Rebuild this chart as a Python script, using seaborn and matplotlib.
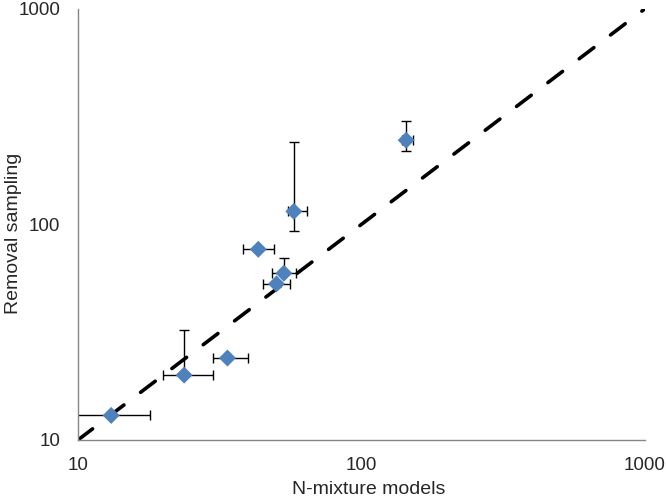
import matplotlib
matplotlib.use('Agg')
import matplotlib.pyplot as plt
import seaborn as sns
import pandas as pd

# N-mixture estimates vs removal sampling estimates
nmix = [13.1, 23.7, 33.7, 57.8, 43.3, 53.3, 50.2, 144]
removal = [13.0, 20.0, 24.0, 115, 76.7, 59.4, 53.0, 246]
nmix_low = [9.0, 19.9, 29.9, 55.3, 38.3, 48.4, 45.1, 139]
nmix_high = [18.0, 29.9, 39.9, 64.1, 49.1, 59.0, 56.2, 152]
removal_low = [13.0, 20.0, 24.0, 93.5, 76.7, 59.4, 53.0, 220]
removal_high = [13.0, 32.4, 24.0, 241, 76.7, 70.2, 53.0, 302]

df = pd.DataFrame({'nmix': nmix, 'removal': removal})

sns.set_style('white')
plt.rcParams['font.family'] = ['Liberation Sans', 'DejaVu Sans']

fig = plt.figure(figsize=(6.66, 4.98), dpi=100)
ax = fig.add_axes([0.117, 0.1165, 0.851, 0.8655])

# 1:1 line
ax.plot([10, 1000], [10, 1000], color='black', lw=2.6, ls=(0, (5.1, 5.8)),
        dash_capstyle='round', zorder=1)

xerr = [[v - lo for v, lo in zip(nmix, nmix_low)], [hi - v for v, hi in zip(nmix, nmix_high)]]
yerr = [[v - lo for v, lo in zip(removal, removal_low)], [hi - v for v, hi in zip(removal, removal_high)]]
ax.errorbar(nmix, removal, xerr=xerr, yerr=yerr, fmt='none', ecolor='black',
            elinewidth=1, capsize=3.5, capthick=1, zorder=2)

sns.scatterplot(data=df, x='nmix', y='removal', marker='D', s=75, color='#4F81BD',
                edgecolor='none', ax=ax, zorder=3)

ax.set_xscale('log')
ax.set_yscale('log')
ax.set_xlim(10, 1000)
ax.set_ylim(10, 1000)
ax.set_xticks([10, 100, 1000])
ax.set_yticks([10, 100, 1000])
ax.set_xticklabels(['10', '100', '1000'])
ax.set_yticklabels(['10', '100', '1000'])
ax.minorticks_off()
ax.tick_params(axis='both', which='major', direction='out', length=4.5, width=1,
               color='#868686', labelsize=13.5, pad=7.7)
ax.tick_params(axis='y', pad=8.4)

for side in ['top', 'right']:
    ax.spines[side].set_visible(False)
for side in ['left', 'bottom']:
    ax.spines[side].set_color('#868686')
    ax.spines[side].set_linewidth(1)

ax.set_xlabel('N-mixture models', fontsize=14, va='bottom')
ax.set_ylabel('Removal sampling', fontsize=14)
ax.xaxis.set_label_coords(0.513, -0.1335)
ax.yaxis.set_label_coords(-0.099, 0.48)

fig.savefig('out.png', dpi=100)
